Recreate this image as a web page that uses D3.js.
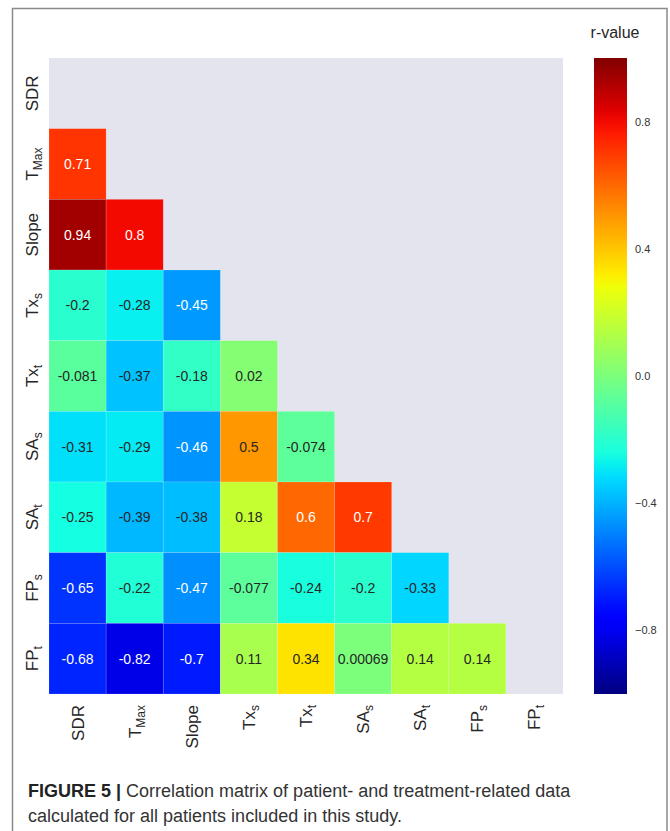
<!DOCTYPE html>
<html><head><meta charset="utf-8">
<script src="https://cdn.jsdelivr.net/npm/d3@7"></script>
<style>
body{margin:0;background:#fff;}
svg{display:block;font-family:"Liberation Sans",Arial,Helvetica,sans-serif;}
</style></head>
<body><svg id="c" width="670" height="831"></svg>
<script>
// ---- data ----
const labelBase = ["SDR","T","Slope","Tx","Tx","SA","SA","FP","FP"];
const labelSub  = ["","Max","","s","t","s","t","s","t"];
// lower triangle of the correlation matrix (row i has i values)
const rowSDR   = [];
const rowTMax  = [0.71];
const rowSlope = [0.94, 0.8];
const rowTxs   = [-0.2, -0.28, -0.45];
const rowTxt   = [-0.081, -0.37, -0.18, 0.02];
const rowSAs   = [-0.31, -0.29, -0.46, 0.5, -0.074];
const rowSAt   = [-0.25, -0.39, -0.38, 0.18, 0.6, 0.7];
const rowFPs   = [-0.65, -0.22, -0.47, -0.077, -0.24, -0.2, -0.33];
const rowFPt   = [-0.68, -0.82, -0.7, 0.11, 0.34, 0.00069, 0.14, 0.14];
const colorbarTicks = [0.8, 0.4, 0.0, -0.4, -0.8];
const rows = [rowSDR,rowTMax,rowSlope,rowTxs,rowTxt,rowSAs,rowSAt,rowFPs,rowFPt];

// ---- jet colormap ----
function interpCh(pts, t){
  for(let i=1;i<pts.length;i++){
    if(t<=pts[i][0]){const a=pts[i-1],b=pts[i];return a[1]+(b[1]-a[1])*(t-a[0])/(b[0]-a[0]);}
  }
  return pts[pts.length-1][1];
}
const jR=[[0,0],[0.35,0],[0.66,1],[0.89,1],[1,0.5]];
const jG=[[0,0],[0.125,0],[0.375,1],[0.64,1],[0.91,0],[1,0]];
const jB=[[0,0.5],[0.11,1],[0.34,1],[0.65,0],[1,0]];
function jetRGB(t){t=Math.max(0,Math.min(1,t));return [interpCh(jR,t),interpCh(jG,t),interpCh(jB,t)];}
const norm = d3.scaleLinear().domain([-1,1]).range([0,1]).clamp(true);
function colorOf(v){const c=jetRGB(norm(v));return d3.rgb(c[0]*255,c[1]*255,c[2]*255).formatHex();}
function lum(v){const c=jetRGB(norm(v)).map(x=>x<=0.03928?x/12.92:Math.pow((x+0.055)/1.055,2.4));return 0.2126*c[0]+0.7152*c[1]+0.0722*c[2];}

const svg = d3.select("#c");
// frame
svg.append("rect").attr("x",12.5).attr("y",8.5).attr("width",654.5).attr("height",840)
  .attr("fill","none").attr("stroke","#8a8a8a").attr("stroke-width",1.5);

const idx = d3.range(labelBase.length);
const x = d3.scaleBand().domain(idx).range([49,563]);
const y = d3.scaleBand().domain(idx).range([58,694]);

// background
svg.append("rect").attr("x",49).attr("y",58).attr("width",563-49).attr("height",694-58).attr("fill","#e4e4ee");

const cells=[];
rows.forEach((r,i)=>r.forEach((v,j)=>cells.push({i,j,v})));
const g = svg.append("g");
g.selectAll("rect.cell").data(cells).join("rect").attr("class","cell")
  .attr("x",d=>x(d.j)).attr("y",d=>y(d.i)).attr("width",x.bandwidth()).attr("height",y.bandwidth())
  .attr("fill",d=>colorOf(d.v)).attr("stroke","rgba(255,255,255,0.25)").attr("stroke-width",0.6);
g.selectAll("text.ann").data(cells).join("text").attr("class","ann")
  .attr("x",d=>x(d.j)+x.bandwidth()/2).attr("y",d=>y(d.i)+y.bandwidth()/2).attr("dy","0.36em")
  .attr("text-anchor","middle").attr("font-size","14px")
  .attr("fill",d=>lum(d.v)<0.408?"#ffffff":"#262626").text(d=>String(d.v));

function addLabel(sel,i){
  sel.text(null);
  sel.append("tspan").text(labelBase[i]);
  if(labelSub[i]) sel.append("tspan").attr("font-size","12px").attr("dy","4").text(labelSub[i]);
}
// y axis
const yAxis = svg.append("g").attr("transform","translate(49,0)")
  .call(d3.axisLeft(y).tickSize(0).tickPadding(0).tickFormat(()=>"")) ;
yAxis.select(".domain").remove();
yAxis.selectAll(".tick text").each(function(i){
  const t=d3.select(this);
  t.attr("transform",`translate(-11,0) rotate(-90)`).attr("x",0).attr("y",0).attr("dy",0)
   .attr("text-anchor","middle").attr("font-size","17px").attr("fill","#262626")
   .attr("font-family","Liberation Sans, Arial, sans-serif");
  addLabel(t,i);
});
// x axis
const xAxis = svg.append("g").attr("transform","translate(0,694)")
  .call(d3.axisBottom(x).tickSize(0).tickPadding(0).tickFormat(()=>""));
xAxis.select(".domain").remove();
xAxis.selectAll(".tick text").each(function(i){
  const t=d3.select(this);
  t.attr("transform",`translate(6,11) rotate(-90)`).attr("x",0).attr("y",0).attr("dy",0)
   .attr("text-anchor","end").attr("font-size","17px").attr("fill","#262626")
   .attr("font-family","Liberation Sans, Arial, sans-serif");
  addLabel(t,i);
});

// colorbar
const cb = d3.scaleLinear().domain([-1,1]).range([694,58]);
const defs = svg.append("defs");
const grad = defs.append("linearGradient").attr("id","jet").attr("x1",0).attr("y1",1).attr("x2",0).attr("y2",0);
d3.range(0,1.0001,0.02).forEach(t=>grad.append("stop").attr("offset",t).attr("stop-color",colorOf(-1+2*t)));
svg.append("rect").attr("x",594).attr("y",58).attr("width",33).attr("height",694-58).attr("fill","url(#jet)");
const cbAxis = svg.append("g").attr("transform","translate(627,0)")
  .call(d3.axisRight(cb).tickValues(colorbarTicks).tickSize(0).tickPadding(8).tickFormat(d3.format(".1f")));
cbAxis.select(".domain").remove();
cbAxis.selectAll(".tick text").attr("font-size","11px").attr("fill","#333")
  .attr("font-family","Liberation Sans, Arial, sans-serif");
svg.append("text").attr("x",615).attr("y",38).attr("text-anchor","middle").attr("font-size","16px")
  .attr("fill","#262626").text("r-value");

// caption
const cap = svg.append("text").attr("x",28).attr("y",797).attr("font-size","18px").attr("fill","#333");
cap.append("tspan").attr("font-weight","bold").attr("fill","#222").text("FIGURE 5 | ");
cap.append("tspan").text("Correlation matrix of patient- and treatment-related data");
svg.append("text").attr("x",28).attr("y",822).attr("font-size","18px").attr("fill","#333")
  .text("calculated for all patients included in this study.");
</script></body></html>
